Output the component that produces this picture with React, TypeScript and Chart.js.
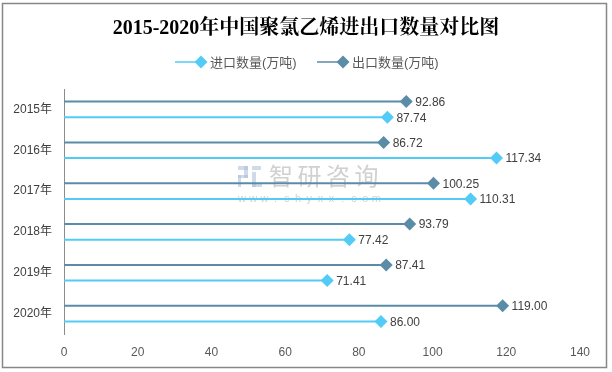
import React, { useEffect, useRef } from 'react';
import { Chart, registerables } from 'chart.js';

Chart.register(...registerables);

const titleText = '2015-2020年中国聚氯乙烯进出口数量对比图';
const categories = ['2015年', '2016年', '2017年', '2018年', '2019年', '2020年'];
const exportLabel = '出口数量(万吨)';
const importLabel = '进口数量(万吨)';
const exportValues = [92.86, 86.72, 100.25, 93.79, 87.41, 119.0];
const importValues = [87.74, 117.34, 110.31, 77.42, 71.41, 86.0];
const xMin = 0;
const xMax = 140;
const xStep = 20;

const EXPORT_COLOR = '#5B8CA7';
const IMPORT_COLOR = '#52CBF7';
const SANS = '"Liberation Sans", "Noto Sans CJK SC", sans-serif';

function diamond(ctx: CanvasRenderingContext2D, x: number, y: number, r: number, color: string) {
  ctx.save();
  ctx.beginPath();
  ctx.moveTo(x, y - r);
  ctx.lineTo(x + r, y);
  ctx.lineTo(x, y + r);
  ctx.lineTo(x - r, y);
  ctx.closePath();
  ctx.fillStyle = color;
  ctx.fill();
  ctx.restore();
}

const decorPlugin = {
  id: 'decor',
  beforeDatasetsDraw(chart: any) {
    const ctx = chart.ctx as CanvasRenderingContext2D;
    ctx.save();
    // watermark
    ctx.fillStyle = 'rgba(150,150,150,0.45)';
    ctx.font = '24px "Noto Sans CJK SC", sans-serif';
    ctx.textBaseline = 'middle';
    ctx.textAlign = 'center';
    const wm = '智研咨询';
    for (let i = 0; i < wm.length; i++) {
      ctx.fillText(wm[i], 281 + i * 28.5, 176);
    }
    ctx.font = '11px ' + SANS;
    const url = 'www.chyxx.com';
    for (let i = 0; i < url.length; i++) {
      ctx.fillText(url[i], 242 + i * 11.2, 199);
    }
    ctx.fillStyle = 'rgba(170,190,215,0.55)';
    ctx.fillRect(238, 166, 10, 4);
    ctx.fillRect(244, 166, 4, 12);
    ctx.fillRect(238, 175, 10, 3);
    ctx.fillRect(238, 175, 3, 12);
    ctx.fillRect(252, 166, 9, 4);
    ctx.fillRect(252, 172, 4, 15);
    ctx.fillRect(252, 184, 10, 3);
    ctx.restore();
  },
  afterDatasetsDraw(chart: any) {
    const ctx = chart.ctx as CanvasRenderingContext2D;
    chart.data.datasets.forEach((ds: any, di: number) => {
      const meta = chart.getDatasetMeta(di);
      meta.data.forEach((el: any, i: number) => {
        diamond(ctx, el.x, el.y, 6.5, ds.backgroundColor);
        ctx.save();
        ctx.font = '12px ' + SANS;
        ctx.fillStyle = '#404040';
        ctx.textAlign = 'left';
        ctx.textBaseline = 'middle';
        ctx.fillText(Number(ds.data[i]).toFixed(2), el.x + 9, el.y + 1);
        ctx.restore();
      });
    });
  },
  afterDraw(chart: any) {
    const ctx = chart.ctx as CanvasRenderingContext2D;
    ctx.save();
    // outer border
    ctx.strokeStyle = '#878787';
    ctx.lineWidth = 1.5;
    ctx.strokeRect(2.5, 3.5, 604, 364);
    // title
    ctx.fillStyle = '#000000';
    ctx.font = 'bold 20px "Liberation Serif", "Noto Serif CJK SC", "Noto Sans CJK SC", serif';
    ctx.textAlign = 'center';
    ctx.textBaseline = 'middle';
    ctx.fillText(titleText, 306, 29);
    // legend
    const items = [
      { label: importLabel, color: IMPORT_COLOR, x0: 175 },
      { label: exportLabel, color: EXPORT_COLOR, x0: 317 },
    ];
    ctx.font = '13px ' + SANS;
    ctx.textAlign = 'left';
    items.forEach((it) => {
      const y = 62;
      ctx.strokeStyle = it.color;
      ctx.lineWidth = 1.5;
      ctx.beginPath();
      ctx.moveTo(it.x0, y);
      ctx.lineTo(it.x0 + 24, y);
      ctx.stroke();
      diamond(ctx, it.x0 + 26, y, 6.5, it.color);
      ctx.fillStyle = '#595959';
      ctx.fillText(it.label, it.x0 + 35, y + 1);
    });
    ctx.restore();
  },
};

export default function App() {
  const ref = useRef<HTMLCanvasElement | null>(null);
  useEffect(() => {
    if (!ref.current) return;
    const chart = new Chart(ref.current, {
      type: 'bar',
      data: {
        labels: categories,
        datasets: [
          {
            label: exportLabel,
            data: exportValues,
            backgroundColor: EXPORT_COLOR,
            maxBarThickness: 2,
            categoryPercentage: 0.765,
            barPercentage: 1,
            borderWidth: 0,
          },
          {
            label: importLabel,
            data: importValues,
            backgroundColor: IMPORT_COLOR,
            maxBarThickness: 2,
            categoryPercentage: 0.765,
            barPercentage: 1,
            borderWidth: 0,
          },
        ],
      },
      options: {
        indexAxis: 'y',
        responsive: false,
        animation: false,
        layout: { padding: { top: 89, right: 32, bottom: 0, left: 0 } },
        scales: {
          x: {
            min: xMin,
            max: xMax,
            ticks: { stepSize: xStep, color: '#595959', font: { size: 12, family: SANS }, padding: 11 },
            grid: { display: false, drawTicks: false },
            border: { display: false },
            afterFit: (s: any) => { s.height = 38; },
          },
          y: {
            ticks: { color: '#404040', font: { size: 12, family: SANS }, padding: 12 },
            grid: { display: false, drawTicks: false },
            border: { display: true, color: '#8c8c8c', width: 1 },
            afterFit: (s: any) => { s.width = 64; },
          },
        },
        plugins: {
          legend: { display: false },
          title: { display: false },
          tooltip: { enabled: false },
        },
      },
      plugins: [decorPlugin],
    } as any);
    return () => chart.destroy();
  }, []);
  return (
    <div style={{ position: 'fixed', left: 0, top: 0, width: 612, height: 372, background: '#fff' }}>
      <canvas ref={ref} width={612} height={372} style={{ display: 'block', width: 612, height: 372 }} />
    </div>
  );
}
